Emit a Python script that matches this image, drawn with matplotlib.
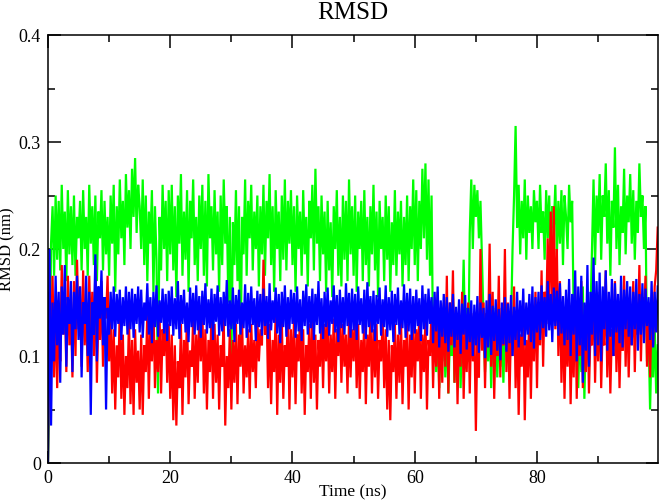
import numpy as np
import matplotlib
matplotlib.use("Agg")
import matplotlib.pyplot as plt
from matplotlib.ticker import MultipleLocator

# --- Data (RMSD values in 0.001 nm, sampled every 0.25 ns) -------------------
DT = 0.25

GREEN = [
    0, 62, 205, 240, 175, 250, 190, 245, 180, 260, 200, 235, 170, 255, 195, 240, 185, 250, 175, 230,
    210, 245, 180, 255, 200, 230, 175, 260, 205, 240, 185, 250, 170, 235, 210, 255, 180, 245, 195, 230,
    175, 250, 205, 260, 160, 240, 195, 265, 210, 245, 185, 270, 220, 255, 200, 275, 230, 285, 215, 260,
    240, 200, 265, 185, 250, 170, 235, 205, 255, 160, 240, 190, 65, 230, 180, 260, 200, 245, 170, 255,
    195, 260, 180, 240, 155, 250, 205, 270, 175, 235, 190, 255, 160, 245, 210, 265, 185, 230, 170, 250,
    200, 260, 175, 245, 165, 270, 210, 240, 180, 255, 195, 235, 160, 250, 185, 265, 205, 240, 150, 230,
    90, 225, 185, 255, 170, 240, 92, 230, 195, 265, 175, 245, 210, 260, 180, 235, 200, 250, 165, 240,
    195, 260, 175, 245, 210, 270, 185, 240, 160, 255, 200, 235, 170, 250, 190, 265, 180, 245, 205, 255,
    185, 240, 160, 250, 200, 235, 175, 255, 195, 230, 165, 245, 210, 260, 180, 275, 205, 240, 170, 250,
    195, 235, 160, 245, 180, 225, 155, 240, 200, 255, 175, 230, 165, 250, 190, 245, 170, 265, 195, 240,
    175, 250, 160, 235, 200, 245, 170, 255, 185, 230, 165, 240, 195, 260, 180, 235, 155, 245, 200, 230,
    170, 250, 190, 240, 160, 225, 185, 255, 175, 235, 195, 245, 165, 230, 185, 250, 170, 240, 200, 265,
    185, 255, 170, 245, 200, 275, 210, 280, 190, 265, 175, 250, 105, 140, 85, 130, 70, 125, 95, 145,
    80, 135, 65, 120, 100, 150, 75, 130, 90, 140, 70, 125, 190, 110, 145, 95, 215, 265, 200, 260,
    230, 255, 210, 245, 190, 135, 85, 125, 95, 140, 70, 130, 100, 145, 80, 120, 90, 135, 75, 125,
    105, 140, 85, 130, 200, 250, 315, 220, 260, 195, 245, 210, 265, 190, 250, 215, 240, 200, 255, 225,
    245, 200, 260, 215, 235, 190, 255, 210, 250, 180, 240, 220, 260, 195, 245, 205, 255, 185, 250, 230,
    200, 260, 225, 245, 140, 95, 150, 70, 130, 85, 165, 60, 125, 150, 90, 140, 200, 265, 185, 250,
    215, 270, 190, 250, 230, 280, 205, 255, 175, 245, 220, 295, 200, 260, 185, 240, 215, 275, 195, 250,
    225, 270, 205, 255, 190, 245, 215, 280, 230, 250, 200, 240, 95, 125, 50, 115, 80, 130, 65, 110,
]

RED = [
    0, 160, 110, 175, 80, 150, 70, 130, 95, 185, 120, 160, 85, 175, 110, 145, 80, 170, 100, 190,
    125, 165, 90, 180, 110, 150, 85, 175, 120, 160, 100, 185, 75, 140, 115, 170, 90, 155, 135, 175,
    95, 140, 65, 125, 50, 110, 80, 145, 60, 120, 45, 100, 70, 135, 55, 115, 45, 125, 75, 105,
    50, 120, 45, 110, 85, 140, 60, 130, 95, 150, 70, 115, 85, 140, 65, 125, 100, 145, 75, 130,
    60, 120, 40, 110, 35, 95, 70, 130, 45, 115, 80, 140, 55, 105, 90, 135, 60, 120, 75, 140,
    95, 145, 65, 125, 50, 115, 85, 140, 60, 130, 75, 120, 50, 110, 90, 135, 35, 100, 70, 125,
    50, 115, 75, 130, 55, 120, 90, 135, 65, 110, 80, 125, 60, 130, 85, 115, 70, 135, 95, 125,
    110, 190, 120, 150, 70, 130, 55, 115, 85, 140, 45, 120, 75, 135, 60, 110, 90, 145, 50, 125,
    80, 135, 55, 120, 95, 140, 65, 125, 45, 110, 85, 130, 60, 140, 75, 120, 50, 115, 90, 135,
    70, 130, 95, 140, 65, 120, 85, 135, 60, 125, 100, 140, 75, 130, 90, 120, 65, 135, 80, 125,
    95, 140, 70, 130, 60, 115, 85, 135, 55, 120, 90, 140, 65, 125, 80, 130, 60, 115, 95, 135,
    70, 125, 50, 115, 40, 110, 85, 130, 60, 120, 75, 135, 55, 115, 90, 130, 50, 120, 80, 140,
    65, 125, 95, 140, 60, 120, 85, 135, 50, 115, 100, 145, 70, 130, 90, 160, 60, 140, 75, 150,
    90, 175, 65, 150, 110, 180, 75, 140, 55, 130, 90, 160, 60, 125, 85, 150, 65, 140, 95, 130,
    30, 120, 80, 200, 105, 150, 70, 140, 120, 205, 90, 160, 60, 130, 100, 175, 80, 145, 110, 200,
    85, 150, 60, 130, 100, 165, 70, 140, 45, 120, 90, 150, 40, 115, 80, 145, 60, 135, 95, 160,
    70, 150, 110, 180, 90, 160, 130, 210, 150, 235, 140, 240, 125, 200, 100, 170, 75, 145, 60, 130,
    90, 150, 55, 125, 80, 165, 60, 140, 100, 170, 70, 135, 85, 155, 65, 125, 110, 170, 75, 140,
    95, 160, 70, 130, 110, 180, 80, 145, 65, 125, 100, 170, 85, 150, 70, 135, 105, 175, 90, 155,
    80, 145, 110, 170, 85, 150, 120, 185, 95, 155, 130, 175, 90, 150, 80, 140, 110, 165, 180, 220,
]

BLUE = [
    0, 200, 35, 150, 95, 175, 110, 160, 75, 165, 120, 185, 90, 155, 130, 170, 85, 160, 125, 175,
    115, 165, 80, 150, 130, 175, 100, 160, 45, 150, 120, 195, 95, 165, 135, 180, 110, 155, 50, 145,
    120, 160, 125, 165, 118, 158, 130, 162, 115, 155, 128, 165, 120, 160, 125, 163, 117, 158, 130, 165,
    122, 162, 117, 150, 133, 168, 120, 155, 112, 160, 127, 166, 118, 152, 131, 163, 121, 158, 114, 161,
    128, 165, 119, 154, 125, 170, 116, 157, 130, 162, 122, 150, 113, 164, 127, 159, 120, 166, 124, 156,
    117, 161, 129, 168, 121, 153, 126, 163, 115, 158, 132, 166, 119, 155, 123, 160, 128, 171, 118, 152,
    125, 164, 113, 157, 130, 162, 120, 150, 126, 167, 117, 159, 122, 165, 129, 154, 114, 161, 127, 158,
    119, 163, 128, 156, 116, 168, 124, 152, 131, 164, 121, 158, 112, 160, 127, 166, 118, 155, 125, 162,
    130, 159, 117, 165, 123, 153, 114, 161, 128, 167, 120, 156, 126, 163, 115, 158, 129, 170, 121, 154,
    116, 160, 127, 164, 119, 152, 130, 166, 122, 157, 113, 162, 126, 155, 120, 168, 128, 159, 117, 163,
    124, 158, 115, 165, 129, 154, 121, 162, 116, 169, 127, 156, 122, 161, 114, 157, 130, 164, 119, 153,
    127, 166, 118, 155, 124, 161, 113, 158, 129, 164, 120, 152, 126, 167, 117, 159, 123, 163, 115, 156,
    121, 162, 128, 154, 114, 166, 125, 158, 119, 163, 130, 155, 112, 160, 123, 165, 108, 152, 118, 158,
    112, 155, 104, 150, 118, 158, 108, 146, 115, 153, 102, 149, 120, 157, 106, 145, 113, 152, 100, 148,
    110, 156, 103, 150, 117, 145, 98, 152, 108, 158, 101, 147, 114, 153, 105, 144, 96, 150, 111, 155,
    104, 149, 112, 157, 100, 146, 115, 160, 108, 152, 118, 163, 110, 150, 120, 158, 113, 165, 107, 155,
    122, 160, 115, 166, 126, 155, 118, 170, 124, 158, 113, 164, 128, 161, 119, 168, 121, 156, 110, 162,
    115, 172, 100, 158, 120, 180, 95, 165, 110, 175, 75, 150, 105, 185, 90, 160, 120, 192, 100, 170,
    110, 178, 95, 165, 125, 180, 105, 160, 118, 172, 100, 168, 122, 158, 112, 175, 108, 162, 125, 170,
    118, 165, 110, 160, 125, 172, 105, 158, 120, 168, 112, 163, 128, 155, 115, 170, 108, 160, 122, 165,
]

X_TICKS = [0, 20, 40, 60, 80]
Y_TICKS = [0, 0.1, 0.2, 0.3, 0.4]


def main():
    plt.rcParams["font.family"] = ["Liberation Serif", "DejaVu Serif"]

    fig = plt.figure(figsize=(6.61, 5.03), dpi=100)
    ax = fig.add_axes([0.0726, 0.0795, 0.9229, 0.8509])

    time = np.arange(len(GREEN)) * DT

    # draw order: green, red, blue (blue on top)
    for values, color in [(GREEN, "#00ff00"), (RED, "#ff0000"), (BLUE, "#0000ff")]:
        ax.plot(time, np.array(values) / 1000.0, color=color, linewidth=1.6,
                solid_joinstyle="miter")

    ax.set_xlim(0, 99.8)
    ax.set_ylim(0, 0.4)
    ax.set_xticks(X_TICKS)
    ax.set_yticks(Y_TICKS)
    ax.set_yticklabels(["0", "0.1", "0.2", "0.3", "0.4"])
    ax.xaxis.set_minor_locator(MultipleLocator(10))
    ax.yaxis.set_minor_locator(MultipleLocator(0.05))

    ax.tick_params(which="both", direction="in", top=True, right=True,
                   width=1.1, labelsize=13, pad=5)
    ax.tick_params(which="major", length=9)
    ax.tick_params(which="minor", length=5)
    for spine in ax.spines.values():
        spine.set_linewidth(1.1)

    ax.set_title("RMSD", fontsize=18, pad=11.5)
    ax.set_xlabel("Time (ns)", fontsize=12.5)
    ax.set_ylabel("RMSD (nm)", fontsize=12)
    ax.xaxis.set_label_coords(0.5, -0.05)
    ax.yaxis.set_label_coords(-0.054, 0.5)

    fig.savefig("out.png", dpi=100)


if __name__ == "__main__":
    main()
